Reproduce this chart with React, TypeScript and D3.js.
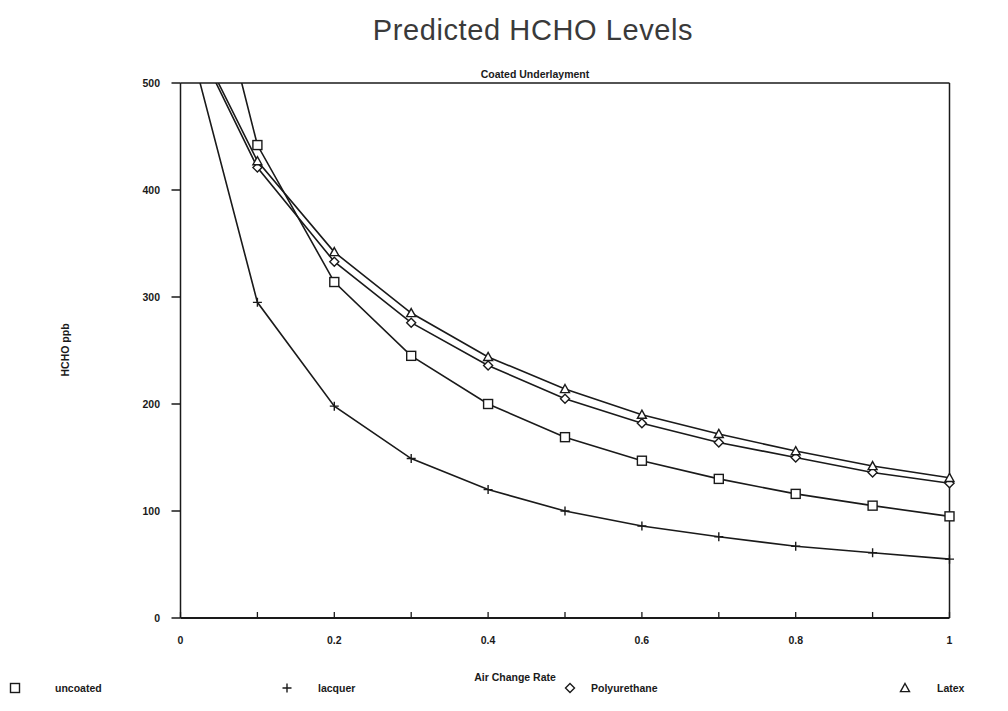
import React from "react";
import * as d3 from "d3";

const airChange = [0, 0.1, 0.2, 0.3, 0.4, 0.5, 0.6, 0.7, 0.8, 0.9, 1.0];
const uncoated = [726, 442, 314, 245, 200, 169, 147, 130, 116, 105, 95];
const lacquer = [570, 295, 198, 149, 120, 100, 86, 76, 67, 61, 55];
const polyurethane = [568, 421, 333, 276, 236, 205, 182, 164, 150, 136, 126];
const latex = [571, 427, 342, 285, 244, 214, 190, 172, 156, 142, 131];
const seriesNames = ["uncoated", "lacquer", "Polyurethane", "Latex"];
const seriesMarkers = ["square", "plus", "diamond", "triangle"];
const xTicks = [0, 0.1, 0.2, 0.3, 0.4, 0.5, 0.6, 0.7, 0.8, 0.9, 1];
const xTickLabels = ["0", "", "0.2", "", "0.4", "", "0.6", "", "0.8", "", "1"];
const yTicks = [0, 100, 200, 300, 400, 500];

const W = 1008;
const H = 711;
const L = 180.5, R = 949.5, T = 83, B = 618;
const INK = "#1a1a1a";
const FONT = "'Liberation Sans', Arial, sans-serif";

function Marker({ type, x, y }: { type: string; x: number; y: number }) {
  const s = 4.5;
  if (type === "square")
    return <rect x={x - s} y={y - s} width={2 * s} height={2 * s} fill="white" stroke={INK} strokeWidth={1.4} />;
  if (type === "plus")
    return (
      <path d={`M${x - s},${y}H${x + s}M${x},${y - s}V${y + s}`} stroke={INK} strokeWidth={1.4} fill="none" />
    );
  if (type === "diamond")
    return (
      <path d={`M${x},${y - s}L${x + s},${y}L${x},${y + s}L${x - s},${y}Z`} fill="white" stroke={INK} strokeWidth={1.4} />
    );
  return (
    <path d={`M${x},${y - s}L${x + s},${y + s * 0.8}L${x - s},${y + s * 0.8}Z`} fill="white" stroke={INK} strokeWidth={1.4} />
  );
}

export default function App() {
  const x = d3.scaleLinear().domain([0, 1]).range([L, R]);
  const y = d3.scaleLinear().domain([0, 500]).range([B, T]);
  const allSeries = [uncoated, lacquer, polyurethane, latex];
  const line = d3
    .line<number>()
    .x((_, i) => x(airChange[i]))
    .y((d) => y(d));

  const legendX = [15, 287, 570, 905];
  const legendTextX = [55, 318, 591, 937];

  return (
    <svg width={W} height={H} style={{ position: "absolute", left: 0, top: 0, background: "white" }}>
      <defs>
        <clipPath id="plot">
          <rect x={L} y={T} width={R - L} height={B - T} />
        </clipPath>
      </defs>
      <text x={533} y={40} textAnchor="middle" fontFamily="'Liberation Sans', Arial, sans-serif" fontSize={29} letterSpacing={0.6} fill="#3a3a3a">
        Predicted HCHO Levels
      </text>
      <text x={535} y={78} textAnchor="middle" fontFamily={FONT} fontWeight="bold" fontSize={10.5} fill={INK}>
        Coated Underlayment
      </text>

      {/* frame */}
      <line x1={L} x2={R} y1={T} y2={T} stroke={INK} strokeWidth={1.5} />
      <line x1={R} x2={R} y1={T} y2={B} stroke={INK} strokeWidth={1.5} />
      <line x1={L} x2={L} y1={T} y2={B} stroke={INK} strokeWidth={1.5} />
      <line x1={L} x2={R} y1={B} y2={B} stroke={INK} strokeWidth={1.8} />

      {yTicks.map((t) => (
        <g key={t}>
          <line x1={L - 9} x2={L} y1={y(t)} y2={y(t)} stroke={INK} strokeWidth={1.5} />
          <text x={160} y={y(t) + 4} textAnchor="end" fontFamily={FONT} fontWeight="bold" fontSize={10.5} fill={INK}>
            {t}
          </text>
        </g>
      ))}
      {xTicks.map((t, i) => (
        <g key={t}>
          <line x1={x(t)} x2={x(t)} y1={B - 6} y2={B} stroke={INK} strokeWidth={1.3} />
          <text x={x(t)} y={644} textAnchor="middle" fontFamily={FONT} fontWeight="bold" fontSize={10.5} fill={INK}>
            {xTickLabels[i]}
          </text>
        </g>
      ))}

      <text
        transform="translate(69,350) rotate(-90)"
        textAnchor="middle"
        fontFamily={FONT}
        fontWeight="bold"
        fontSize={10.5}
        fill={INK}
      >
        HCHO ppb
      </text>
      <text x={515} y={681} textAnchor="middle" fontFamily={FONT} fontWeight="bold" fontSize={10.5} fill={INK}>
        Air Change Rate
      </text>

      <g clipPath="url(#plot)">
        {allSeries.map((s, si) => (
          <path key={si} d={line(s) || ""} fill="none" stroke={INK} strokeWidth={1.6} />
        ))}
      </g>
      {allSeries.map((s, si) =>
        s.map((v, i) =>
          v <= 500 ? <Marker key={`${si}-${i}`} type={seriesMarkers[si]} x={x(airChange[i])} y={y(v)} /> : null
        )
      )}

      {seriesNames.map((n, i) => (
        <g key={n}>
          <Marker type={seriesMarkers[i]} x={legendX[i]} y={688} />
          <text x={legendTextX[i]} y={692} fontFamily={FONT} fontWeight="bold" fontSize={10.5} fill={INK}>
            {n}
          </text>
        </g>
      ))}
    </svg>
  );
}
